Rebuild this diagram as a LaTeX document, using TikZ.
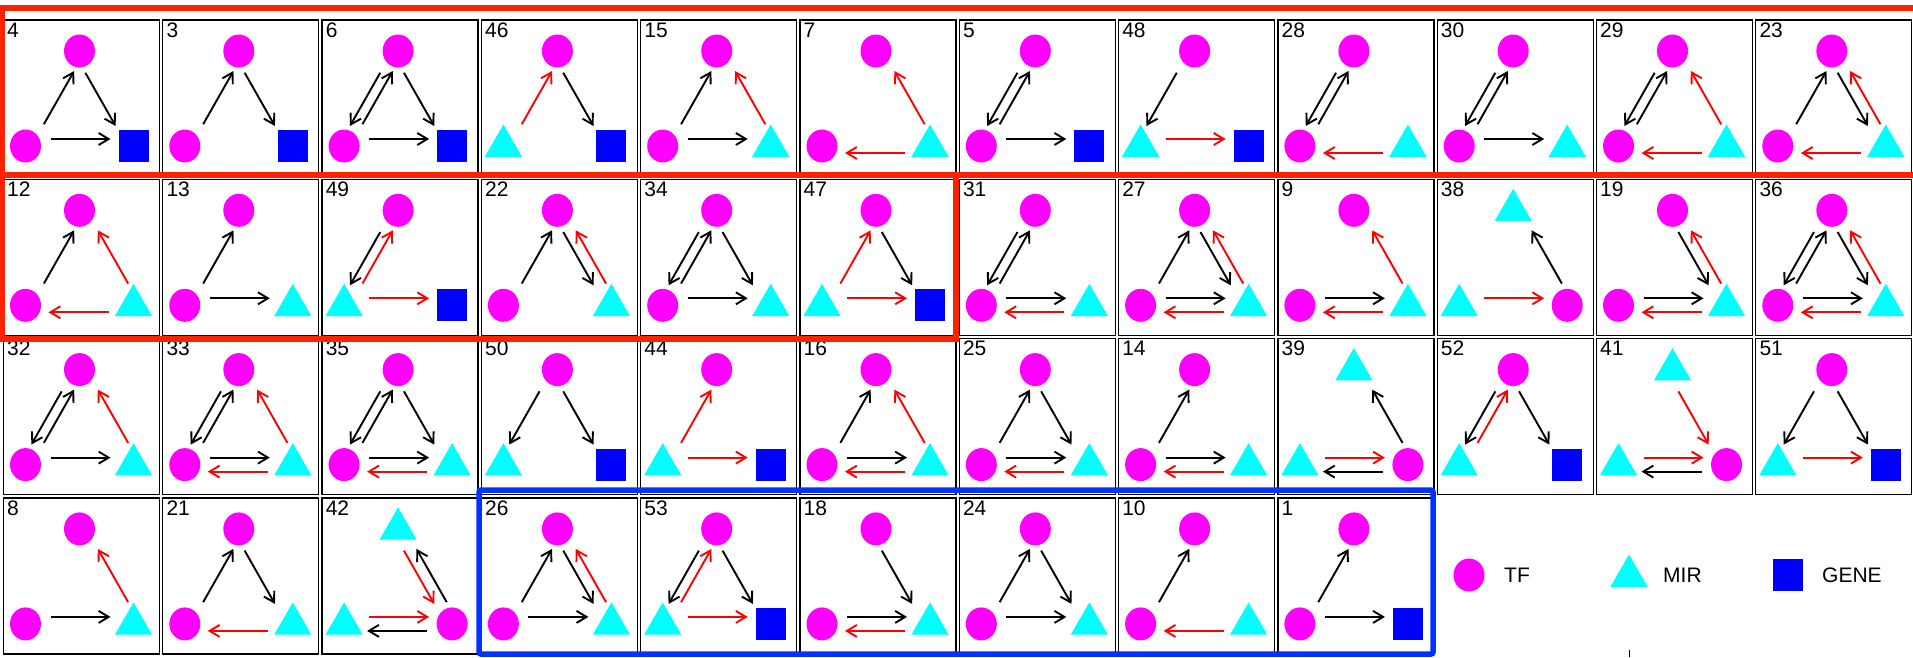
\documentclass[tikz,border=0pt]{standalone}
\usepackage{fontspec}
\setmainfont{Liberation Sans}
\usetikzlibrary{arrows.meta,shapes.geometric}

\definecolor{tfcol}{RGB}{255,0,255}
\definecolor{mircol}{RGB}{0,255,255}
\definecolor{genecol}{RGB}{0,0,255}
\definecolor{hired}{RGB}{255,34,0}
\definecolor{hiblue}{RGB}{0,51,255}

%% one motif panel: column, row, label, top / left / right shape, arcs
\newcommand{\motif}[7]{%
  \begin{scope}[shift={({\xo+#1*\pitch},{\yo+#2*\pitch})},name prefix=m#3-]
    \draw[pnl] (0,0) rectangle (\pW,\pW);
    \node[num] (n) at (3.5,2.5) {#3};
    \node[#4] (t) at (76,31) {};
    \node[#5] (l) at (22,126) {};
    \node[#6] (r) at (130,126) {};
    #7
  \end{scope}}
%% arcs: top->left, left->top, top->right, right->top, left->right, right->left
\newcommand{\aTL}[1]{\draw[lnk,#1] ([xshift=-5.5pt]t.center) -- ([xshift=-5.5pt]l.center);}
\newcommand{\aLT}[1]{\draw[lnk,#1] ([xshift=6pt]l.center) -- ([xshift=6pt]t.center);}
\newcommand{\aTR}[1]{\draw[lnk,#1] ([xshift=-6.5pt]t.center) -- ([xshift=-6.5pt]r.center);}
\newcommand{\aRT}[1]{\draw[lnk,#1] ([xshift=7pt]r.center) -- ([xshift=7pt]t.center);}
\newcommand{\aLR}[1]{\draw[lnk,#1] ([yshift=7pt]l.center) -- ([yshift=7pt]r.center);}
\newcommand{\aRL}[1]{\draw[lnk,#1] ([yshift=-7pt]r.center) -- ([yshift=-7pt]l.center);}

\begin{document}
\begin{tikzpicture}[x=1pt,y=-1pt,
  pnl/.style={line width=1.3pt},
  num/.style={font=\fontsize{21pt}{21pt}\selectfont,anchor=north west,inner sep=0pt},
  lgtxt/.style={font=\fontsize{21pt}{21pt}\selectfont,anchor=west,inner sep=0pt},
  tf/.style={ellipse,fill=tfcol,minimum width=31pt,minimum height=33pt,inner sep=0pt},
  mir/.style={regular polygon,regular polygon sides=3,fill=mircol,minimum size=43pt,inner sep=0pt},
  gene/.style={rectangle,fill=genecol,minimum width=30pt,minimum height=32pt,inner sep=0pt},
  lnk/.style={line width=1.9pt,-{Straight Barb[length=10pt,width=12pt]},shorten <=25pt,shorten >=23pt},
  hibox/.style={line width=5.5pt},
]

%% Layout parameters
\def\xo{3.5}      % left of first panel
\def\yo{20}       % top of first row
\def\pitch{159.3} % panel spacing
\def\pW{156}      % panel size

\useasboundingbox (0,0) rectangle (1913,657);

%% ---- row 1 ----
\motif{0}{0}{4}{tf}{tf}{gene}{\aLT{black}\aTR{black}\aLR{black}}
\motif{1}{0}{3}{tf}{tf}{gene}{\aLT{black}\aTR{black}}
\motif{2}{0}{6}{tf}{tf}{gene}{\aTL{black}\aLT{black}\aTR{black}\aLR{black}}
\motif{3}{0}{46}{tf}{mir}{gene}{\aLT{red}\aTR{black}}
\motif{4}{0}{15}{tf}{tf}{mir}{\aLT{black}\aRT{red}\aLR{black}}
\motif{5}{0}{7}{tf}{tf}{mir}{\aRT{red}\aRL{red}}
\motif{6}{0}{5}{tf}{tf}{gene}{\aTL{black}\aLT{black}\aLR{black}}
\motif{7}{0}{48}{tf}{mir}{gene}{\aTL{black}\aLR{red}}
\motif{8}{0}{28}{tf}{tf}{mir}{\aTL{black}\aLT{black}\aRL{red}}
\motif{9}{0}{30}{tf}{tf}{mir}{\aTL{black}\aLT{black}\aLR{black}}
\motif{10}{0}{29}{tf}{tf}{mir}{\aTL{black}\aLT{black}\aRT{red}\aRL{red}}
\motif{11}{0}{23}{tf}{tf}{mir}{\aLT{black}\aTR{black}\aRT{red}\aRL{red}}

%% ---- row 2 ----
\motif{0}{1}{12}{tf}{tf}{mir}{\aLT{black}\aRT{red}\aRL{red}}
\motif{1}{1}{13}{tf}{tf}{mir}{\aLT{black}\aLR{black}}
\motif{2}{1}{49}{tf}{mir}{gene}{\aTL{black}\aLT{red}\aLR{red}}
\motif{3}{1}{22}{tf}{tf}{mir}{\aLT{black}\aTR{black}\aRT{red}}
\motif{4}{1}{34}{tf}{tf}{mir}{\aTL{black}\aLT{black}\aTR{black}\aLR{black}}
\motif{5}{1}{47}{tf}{mir}{gene}{\aLT{red}\aTR{black}\aLR{red}}
\motif{6}{1}{31}{tf}{tf}{mir}{\aTL{black}\aLT{black}\aLR{black}\aRL{red}}
\motif{7}{1}{27}{tf}{tf}{mir}{\aLT{black}\aTR{black}\aRT{red}\aLR{black}\aRL{red}}
\motif{8}{1}{9}{tf}{tf}{mir}{\aRT{red}\aLR{black}\aRL{red}}
\motif{9}{1}{38}{mir}{mir}{tf}{\aRT{black}\aLR{red}}
\motif{10}{1}{19}{tf}{tf}{mir}{\aTR{black}\aRT{red}\aLR{black}\aRL{red}}
\motif{11}{1}{36}{tf}{tf}{mir}{\aTL{black}\aLT{black}\aTR{black}\aRT{red}\aLR{black}\aRL{red}}

%% ---- row 3 ----
\motif{0}{2}{32}{tf}{tf}{mir}{\aTL{black}\aLT{black}\aRT{red}\aLR{black}}
\motif{1}{2}{33}{tf}{tf}{mir}{\aTL{black}\aLT{black}\aRT{red}\aLR{black}\aRL{red}}
\motif{2}{2}{35}{tf}{tf}{mir}{\aTL{black}\aLT{black}\aTR{black}\aLR{black}\aRL{red}}
\motif{3}{2}{50}{tf}{mir}{gene}{\aTL{black}\aTR{black}}
\motif{4}{2}{44}{tf}{mir}{gene}{\aLT{red}\aLR{red}}
\motif{5}{2}{16}{tf}{tf}{mir}{\aLT{black}\aRT{red}\aLR{black}\aRL{red}}
\motif{6}{2}{25}{tf}{tf}{mir}{\aLT{black}\aTR{black}\aLR{black}\aRL{red}}
\motif{7}{2}{14}{tf}{tf}{mir}{\aLT{black}\aLR{black}\aRL{red}}
\motif{8}{2}{39}{mir}{mir}{tf}{\aRT{black}\aLR{red}\aRL{black}}
\motif{9}{2}{52}{tf}{mir}{gene}{\aTL{black}\aLT{red}\aTR{black}}
\motif{10}{2}{41}{mir}{mir}{tf}{\aTR{red}\aLR{red}\aRL{black}}
\motif{11}{2}{51}{tf}{mir}{gene}{\aTL{black}\aTR{black}\aLR{red}}

%% ---- row 4 ----
\motif{0}{3}{8}{tf}{tf}{mir}{\aRT{red}\aLR{black}}
\motif{1}{3}{21}{tf}{tf}{mir}{\aLT{black}\aTR{black}\aRL{red}}
\motif{2}{3}{42}{mir}{mir}{tf}{\aTR{red}\aRT{black}\aLR{red}\aRL{black}}
\motif{3}{3}{26}{tf}{tf}{mir}{\aLT{black}\aTR{black}\aRT{red}\aLR{black}}
\motif{4}{3}{53}{tf}{mir}{gene}{\aTL{black}\aLT{red}\aTR{black}\aLR{red}}
\motif{5}{3}{18}{tf}{tf}{mir}{\aTR{black}\aLR{black}\aRL{red}}
\motif{6}{3}{24}{tf}{tf}{mir}{\aLT{black}\aTR{black}\aLR{black}}
\motif{7}{3}{10}{tf}{tf}{mir}{\aLT{black}\aRL{red}}
\motif{8}{3}{1}{tf}{tf}{gene}{\aLT{black}\aLR{black}}

%% ---- legend ----
\node[tf] (lgtf) at (1469,575) {};
\node[lgtxt] (lgtftxt) at (1504,575) {TF};
\node[mir] (lgmir) at (1629,576) {};
\node[lgtxt] (lgmirtxt) at (1663,575) {MIR};
\node[gene] (lggene) at (1788,575) {};
\node[lgtxt] (lggenetxt) at (1822,575) {GENE};
\draw[line width=1pt] (1629,650) -- (1629,657);

%% ---- highlight frames ----
\draw[hibox,hired] (2.5,8) rectangle (1920,175);
\draw[hibox,hired] (2.5,175) rectangle (956,339);
\draw[hibox,hiblue,rounded corners=2pt] (479,490) rectangle (1433,654);

\end{tikzpicture}
\end{document}
